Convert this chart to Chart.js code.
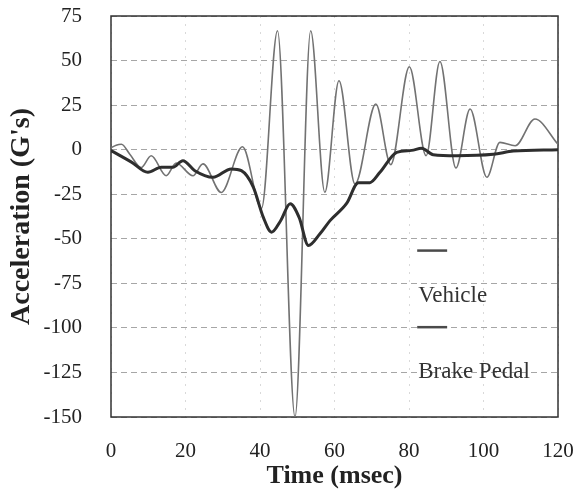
<!DOCTYPE html>
<html><head><meta charset="utf-8">
<script src="https://cdn.jsdelivr.net/npm/chart.js@4.4.0/dist/chart.umd.min.js"></script>
<style>html,body{margin:0;padding:0;background:#fff}#wrap{width:578px;height:492px}</style>
</head><body><div id="wrap"><canvas id="c" width="578" height="492"></canvas></div>
<script>
// ---- data ----
const xTickValues = [0, 20, 40, 60, 80, 100, 120];
const yTickValues = [75, 50, 25, 0, -25, -50, -75, -100, -125, -150];
const seriesNames = ['Vehicle', 'Brake Pedal'];

const vehicleTime  = [0, 5.5, 9.9, 13.5, 16.6, 19.3, 22.5, 27.4, 32.3, 35, 38.2, 40.9, 43.1, 45.5, 48.1, 50.5, 53, 56.1, 58.8, 63.3, 66.4, 69.5, 72.2, 76.7, 80.7, 83.4, 86.5, 92.8, 102.6, 108, 120];
const vehicleAccel = [-0.5, -7, -12.7, -9.9, -9.9, -6.2, -11.8, -15.5, -10.8, -11.8, -21, -38, -46.3, -40, -30.4, -38, -53.8, -47.2, -39.8, -30, -18.5, -18.5, -12.7, -1.5, -0.4, 0.8, -2.8, -3.4, -2.6, -0.8, 0];

const pedalTime  = [0, 1.4, 2.8, 5, 8.1, 10.8, 14.8, 17.5, 22, 24.7, 29.6, 35.3, 40.4, 44.7, 49.4, 53.6, 57.4, 61.2, 65.5, 71.1, 75.1, 80.1, 84.6, 88.3, 92.6, 96.4, 100.9, 104.4, 108.5, 113.8, 120];
const pedalAccel = [1, 2.5, 3, -2.4, -10, -3.4, -14.6, -7.5, -14.6, -8, -24, 1.6, -33, 66.7, -150, 66.7, -23.9, 38.7, -19.3, 25.6, -8.4, 46.5, -3.4, 49.5, -10.3, 22.8, -15.5, 4.1, 2.2, 17.2, 3];

const toPoints = (xs, ys) => xs.map((x, i) => ({x: x, y: ys[i]}));

const serif = "'Liberation Serif', 'Times New Roman', serif";

const frame = {
  id: 'frame',
  beforeDatasetsDraw(chart) {
    const a = chart.chartArea, ctx = chart.ctx;
    ctx.save();
    ctx.strokeStyle = '#333';
    ctx.lineWidth = 1.5;
    ctx.strokeRect(a.left, a.top, a.right - a.left, a.bottom - a.top);
    ctx.restore();
  }
};

const insideLegend = {
  id: 'insideLegend',
  afterDraw(chart) {
    const a = chart.chartArea, ctx = chart.ctx;
    const w = a.right - a.left, h = a.bottom - a.top;
    const x0 = a.left + w * 0.685, x1 = a.left + w * 0.752;
    const rows = [
      {lineY: a.top + h * 0.585, textY: a.top + h * 0.697},
      {lineY: a.top + h * 0.776, textY: a.top + h * 0.888}
    ];
    ctx.save();
    chart.data.datasets.forEach((ds, i) => {
      const r = rows[i];
      ctx.strokeStyle = '#4a4a4a';
      ctx.lineWidth = 2.5;
      ctx.beginPath(); ctx.moveTo(x0, r.lineY); ctx.lineTo(x1, r.lineY); ctx.stroke();
      ctx.fillStyle = '#333';
      ctx.font = "23px " + serif;
      ctx.textBaseline = 'middle';
      ctx.textAlign = 'left';
      ctx.fillText(ds.label, x0 + 1, r.textY);
    });
    ctx.restore();
  }
};

new Chart(document.getElementById('c'), {
  type: 'line',
  data: {
    datasets: [
      {label: seriesNames[0], data: toPoints(vehicleTime, vehicleAccel), borderColor: '#2e2e2e', borderWidth: 3, pointRadius: 0, cubicInterpolationMode: 'monotone', fill: false},
      {label: seriesNames[1], data: toPoints(pedalTime, pedalAccel), borderColor: '#727272', borderWidth: 1.6, pointRadius: 0, cubicInterpolationMode: 'monotone', fill: false}
    ]
  },
  options: {
    responsive: false,
    animation: false,
    layout: {padding: {left: 0, top: 16, right: 20, bottom: 0}},
    plugins: {legend: {display: false}, tooltip: {enabled: false}},
    scales: {
      x: {
        type: 'linear', min: 0, max: 120,
        afterBuildTicks(s) { s.ticks = xTickValues.map(v => ({value: v})); },
        afterFit(s) { s.height = 75; s.paddingLeft = 0; s.paddingRight = 0; s.paddingTop = 0; s.paddingBottom = 0; },
        ticks: {padding: 22, color: '#222', font: {family: serif, size: 21}},
        grid: {drawTicks: false, color: 'rgba(0,0,0,0.15)', lineWidth: 1},
        border: {display: false, dash: [2, 6]},
        title: {display: true, text: 'Time (msec)', color: '#222', font: {family: serif, size: 26, weight: 'bold'}, padding: {top: 0, bottom: 0}}
      },
      y: {
        type: 'linear', min: -150, max: 75,
        afterBuildTicks(s) { s.ticks = yTickValues.map(v => ({value: v})); },
        afterFit(s) { s.width = 111; s.paddingLeft = 0; s.paddingRight = 0; s.paddingTop = 0; s.paddingBottom = 0; },
        ticks: {padding: 29, color: '#222', font: {family: serif, size: 21}},
        grid: {drawTicks: false, color: 'rgba(0,0,0,0.35)', lineWidth: 1},
        border: {display: false, dash: [6, 4]},
        title: {display: true, text: "Acceleration (G's)", color: '#222', font: {family: serif, size: 28, weight: 'bold'}, padding: {top: 5, bottom: 0}}
      }
    }
  },
  plugins: [frame, insideLegend]
});
</script>
</body></html>
